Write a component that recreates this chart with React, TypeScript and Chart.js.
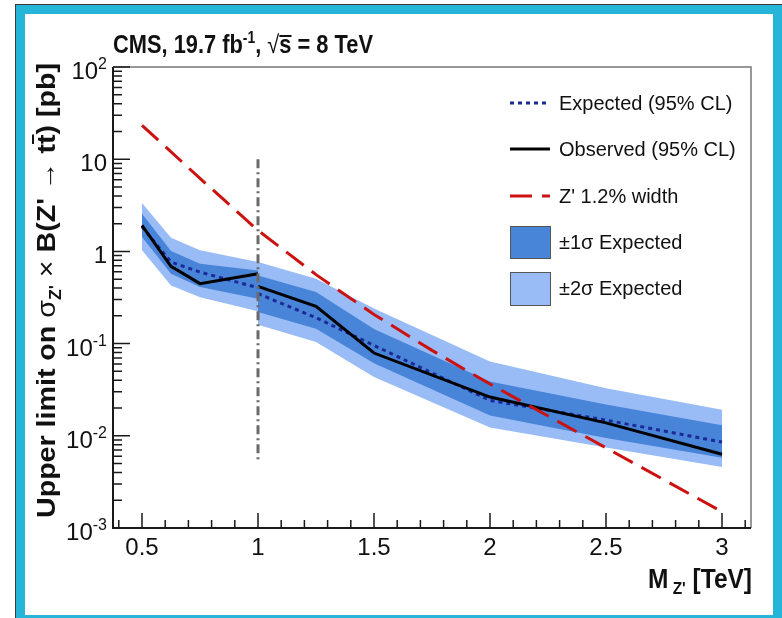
import React, { useEffect, useRef } from 'react';
import { Chart, registerables } from 'chart.js';

Chart.register(...registerables);

const W = 782;
const H = 618;

// Z' mass points (TeV); 1.0 appears twice (low-mass / high-mass analyses)
const massPoints = [0.5, 0.625, 0.75, 1.0, 1.0, 1.25, 1.5, 2.0, 2.5, 3.0];
const observedLimit = [1.91, 0.69, 0.447, 0.573, 0.417, 0.253, 0.079, 0.0263, 0.0138, 0.0063];
const expectedLimit = [1.85, 0.766, 0.596, 0.404, 0.348, 0.191, 0.0955, 0.0242, 0.0148, 0.00855];
const expectedPlus1 = [2.56, 1.01, 0.736, 0.622, 0.549, 0.362, 0.144, 0.0389, 0.0219, 0.013];
const expectedMinus1 = [1.43, 0.573, 0.41, 0.307, 0.22, 0.145, 0.0611, 0.0166, 0.00944, 0.00578];
const expectedPlus2 = [3.34, 1.41, 1.03, 0.766, 0.766, 0.506, 0.241, 0.0641, 0.0327, 0.0192];
const expectedMinus2 = [1.03, 0.428, 0.319, 0.225, 0.16, 0.104, 0.0433, 0.0123, 0.00748, 0.00458];

// Z' 1.2% width theory cross section
const zprimeMass = [0.5, 0.75, 1.0, 1.25, 1.5, 1.75, 2.0, 2.5, 3.0];
const zprimeXsec = [23.3, 6.2, 1.69, 0.56, 0.207, 0.0844, 0.0364, 0.0074, 0.0015];

// analysis boundary marker
const boundaryMass = [1.0, 1.0];
const boundaryLimit = [10, 0.0053];

const xTickValues = [0.5, 1, 1.5, 2, 2.5, 3];
const xTickLabels = ['0.5', '1', '1.5', '2', '2.5', '3'];
const yTickExponents = [-3, -2, -1, 0, 1, 2];
const legendLabels = ['Expected (95% CL)', 'Observed (95% CL)', "Z' 1.2% width", '\u00b11\u03c3 Expected', '\u00b12\u03c3 Expected'];

const FAM = "'Liberation Sans', Arial, Helvetica, sans-serif";
const CYAN = '#25b5d9';
const DARK_BAND = 'rgb(72,132,216)';
const LIGHT_BAND = 'rgb(154,188,246)';
const NAVY = '#1c2a99';
const RED = '#cc1111';
const GRAY = '#6a6a6a';

function pts(xs: number[], ys: number[]) {
  return xs.map((x, i) => ({ x, y: ys[i] }));
}

function splitLine(xs: number[], ys: number[]) {
  const out: { x: number; y: number | null }[] = [];
  xs.forEach((x, i) => {
    if (i > 0 && xs[i - 1] === x) out.push({ x, y: null });
    out.push({ x, y: ys[i] });
  });
  return out;
}

type Part = { t: string; f: string; dy?: number; bar?: boolean; barY?: number };

function partsWidth(ctx: CanvasRenderingContext2D, parts: Part[]) {
  let w = 0;
  for (const p of parts) {
    ctx.font = p.f;
    w += ctx.measureText(p.t).width;
  }
  return w;
}

function drawParts(
  ctx: CanvasRenderingContext2D,
  parts: Part[],
  x: number,
  y: number,
  align: 'left' | 'right',
  target?: number,
  rot?: number
) {
  ctx.save();
  ctx.translate(x, y);
  if (rot) ctx.rotate(rot);
  const w = partsWidth(ctx, parts);
  const s = target ? target / w : 1;
  ctx.scale(s, 1);
  ctx.textAlign = 'left';
  ctx.textBaseline = 'alphabetic';
  let cx = align === 'right' ? -w : 0;
  for (const p of parts) {
    ctx.font = p.f;
    const pw = ctx.measureText(p.t).width;
    ctx.fillText(p.t, cx, p.dy || 0);
    if (p.bar) {
      ctx.save();
      ctx.strokeStyle = ctx.fillStyle as string;
      ctx.lineWidth = 2;
      ctx.beginPath();
      ctx.moveTo(cx, p.barY as number);
      ctx.lineTo(cx + pw, p.barY as number);
      ctx.stroke();
      ctx.restore();
    }
    cx += pw;
  }
  ctx.restore();
}

const decorPlugin = {
  id: 'decor',
  beforeDraw(chart: any) {
    const ctx: CanvasRenderingContext2D = chart.ctx;
    ctx.save();
    ctx.fillStyle = '#ffffff';
    ctx.fillRect(0, 0, W, H);
    ctx.fillStyle = CYAN;
    ctx.fillRect(16, 5, 9, H - 5);
    ctx.fillRect(16, 5, W - 16, 9);
    ctx.fillRect(773, 5, 9, H - 5);
    ctx.fillRect(16, 615, W - 16, 3);
    ctx.fillStyle = '#3a3a3a';
    ctx.fillRect(15, 4, 1, H - 4);
    ctx.fillRect(15, 4, W - 15, 1);
    ctx.restore();
  },
  afterDatasetsDraw(chart: any) {
    const ctx: CanvasRenderingContext2D = chart.ctx;
    const xs = chart.scales.x;
    const ys = chart.scales.y;
    const a = chart.chartArea;
    ctx.save();

    // frame
    ctx.strokeStyle = '#777';
    ctx.lineWidth = 1.5;
    ctx.beginPath();
    ctx.moveTo(a.left, a.top);
    ctx.lineTo(a.right, a.top);
    ctx.lineTo(a.right, a.bottom);
    ctx.stroke();
    ctx.strokeStyle = '#1a1a1a';
    ctx.lineWidth = 2;
    ctx.beginPath();
    ctx.moveTo(a.left, a.top);
    ctx.lineTo(a.left, a.bottom);
    ctx.lineTo(a.right, a.bottom);
    ctx.stroke();

    // y ticks
    ctx.lineWidth = 1.5;
    ctx.beginPath();
    for (let k = -3; k <= 2; k++) {
      const py = ys.getPixelForValue(Math.pow(10, k));
      ctx.moveTo(a.left, py);
      ctx.lineTo(a.left + 17, py);
      if (k < 2) {
        for (let m = 2; m <= 9; m++) {
          const pm = ys.getPixelForValue(m * Math.pow(10, k));
          ctx.moveTo(a.left, pm);
          ctx.lineTo(a.left + 9, pm);
        }
      }
    }
    // x ticks
    for (let i = 4; i <= 31; i++) {
      const v = i / 10;
      const px = xs.getPixelForValue(v);
      const major = i % 5 === 0;
      ctx.moveTo(px, a.bottom);
      ctx.lineTo(px, a.bottom - (major ? 15 : 8));
    }
    ctx.stroke();

    // tick labels
    ctx.fillStyle = '#111';
    const f24 = `24px ${FAM}`;
    const f16 = `16px ${FAM}`;
    yTickExponents.forEach((k) => {
      const py = ys.getPixelForValue(Math.pow(10, k));
      let parts: Part[];
      if (k === 0) parts = [{ t: '1', f: f24 }];
      else if (k === 1) parts = [{ t: '10', f: f24 }];
      else parts = [{ t: '10', f: f24 }, { t: String(k), f: f16, dy: -10 }];
      drawParts(ctx, parts, 107, py + 12, 'right');
    });
    ctx.font = f24;
    ctx.textAlign = 'center';
    ctx.textBaseline = 'alphabetic';
    xTickValues.forEach((v, i) => {
      ctx.fillText(xTickLabels[i], xs.getPixelForValue(v), 555);
    });

    // titles
    const b25 = `bold 25px ${FAM}`;
    const b16 = `bold 16px ${FAM}`;
    const r25 = `25px ${FAM}`;
    drawParts(
      ctx,
      [
        { t: 'CMS, 19.7 fb', f: b25 },
        { t: '-1', f: b16, dy: -10 },
        { t: ', ', f: b25 },
        { t: '\u221a', f: r25 },
        { t: 's', f: b25, bar: true, barY: -17 },
        { t: ' = 8 TeV', f: b25 },
      ],
      113,
      53,
      'left',
      260
    );

    const b27 = `bold 27px ${FAM}`;
    const b17 = `bold 17px ${FAM}`;
    drawParts(
      ctx,
      [
        { t: 'M', f: b27 },
        { t: " Z'", f: b17, dy: 6 },
        { t: ' [TeV]', f: b27 },
      ],
      752,
      588,
      'right',
      104
    );

    const b26 = `bold 26px ${FAM}`;
    const r26 = `26px ${FAM}`;
    drawParts(
      ctx,
      [
        { t: 'Upper limit on ', f: b26 },
        { t: '\u03c3', f: r26 },
        { t: "Z'", f: b16, dy: 6 },
        { t: ' \u00d7 ', f: r26 },
        { t: "B(Z' ", f: b26 },
        { t: '\u2192', f: r26 },
        { t: ' t', f: b26 },
        { t: 't', f: b26, bar: true, barY: -22 },
        { t: ') [pb]', f: b26 },
      ],
      55,
      518,
      'left',
      455,
      -Math.PI / 2
    );

    // legend
    const rows = [103, 149, 196, 242, 288];
    const lx0 = 510;
    const lx1 = 550;
    ctx.lineCap = 'butt';
    ctx.lineWidth = 3;
    ctx.strokeStyle = NAVY;
    ctx.setLineDash([4, 4]);
    ctx.beginPath();
    ctx.moveTo(lx0, rows[0]);
    ctx.lineTo(lx1, rows[0]);
    ctx.stroke();
    ctx.setLineDash([]);
    ctx.strokeStyle = '#000';
    ctx.beginPath();
    ctx.moveTo(lx0, rows[1]);
    ctx.lineTo(lx1, rows[1]);
    ctx.stroke();
    ctx.strokeStyle = RED;
    ctx.setLineDash([22, 10]);
    ctx.beginPath();
    ctx.moveTo(lx0, rows[2]);
    ctx.lineTo(lx1, rows[2]);
    ctx.stroke();
    ctx.setLineDash([]);
    ctx.lineWidth = 1;
    ctx.strokeStyle = '#555';
    ctx.fillStyle = DARK_BAND;
    ctx.fillRect(510, 226, 41, 33);
    ctx.strokeRect(510.5, 226.5, 40, 32);
    ctx.fillStyle = LIGHT_BAND;
    ctx.fillRect(510, 272, 41, 34);
    ctx.strokeRect(510.5, 272.5, 40, 33);

    ctx.fillStyle = '#111';
    ctx.font = `20px ${FAM}`;
    ctx.textAlign = 'left';
    ctx.textBaseline = 'middle';
    legendLabels.forEach((t, i) => ctx.fillText(t, 559, rows[i] + 1));

    ctx.restore();
  },
};

export default function App() {
  const ref = useRef<HTMLCanvasElement | null>(null);

  useEffect(() => {
    if (!ref.current) return;
    const chart = new Chart(ref.current, {
      type: 'line',
      data: {
        datasets: [
          {
            data: pts(massPoints, expectedPlus2),
            borderWidth: 0,
            borderColor: 'transparent',
            backgroundColor: LIGHT_BAND,
            fill: '+1',
            order: 10,
          },
          {
            data: pts(massPoints, expectedMinus2),
            borderWidth: 0,
            borderColor: 'transparent',
            fill: false,
            order: 10,
          },
          {
            data: pts(massPoints, expectedPlus1),
            borderWidth: 0,
            borderColor: 'transparent',
            backgroundColor: DARK_BAND,
            fill: '+1',
            order: 9,
          },
          {
            data: pts(massPoints, expectedMinus1),
            borderWidth: 0,
            borderColor: 'transparent',
            fill: false,
            order: 9,
          },
          {
            data: splitLine(massPoints, expectedLimit),
            borderColor: NAVY,
            borderWidth: 3,
            borderDash: [4, 4],
            fill: false,
            spanGaps: false,
            order: 3,
          },
          {
            data: splitLine(massPoints, observedLimit),
            borderColor: '#000',
            borderWidth: 3,
            fill: false,
            spanGaps: false,
            order: 2,
          },
          {
            data: pts(zprimeMass, zprimeXsec),
            borderColor: RED,
            borderWidth: 3,
            borderDash: [22, 10],
            fill: false,
            order: 1,
          },
          {
            data: pts(boundaryMass, boundaryLimit),
            borderColor: GRAY,
            borderWidth: 3,
            borderDash: [9, 4, 2, 4],
            fill: false,
            order: 0,
          },
        ] as any,
      },
      options: {
        responsive: false,
        animation: false,
        devicePixelRatio: 1,
        events: [],
        layout: { padding: { left: 113, top: 67, right: 31, bottom: 90 }, autoPadding: false } as any,
        plugins: {
          legend: { display: false },
          title: { display: false },
          tooltip: { enabled: false },
        },
        elements: { point: { radius: 0 }, line: { tension: 0 } },
        scales: {
          x: { type: 'linear', min: 0.375, max: 3.125, display: false },
          y: { type: 'logarithmic', min: 0.001, max: 100, display: false },
        },
      },
      plugins: [decorPlugin],
    });
    return () => chart.destroy();
  }, []);

  return (
    <div style={{ position: 'absolute', left: 0, top: 0, width: W, height: H, overflow: 'hidden' }}>
      <canvas ref={ref} width={W} height={H} style={{ width: W, height: H, display: 'block' }} />
    </div>
  );
}
